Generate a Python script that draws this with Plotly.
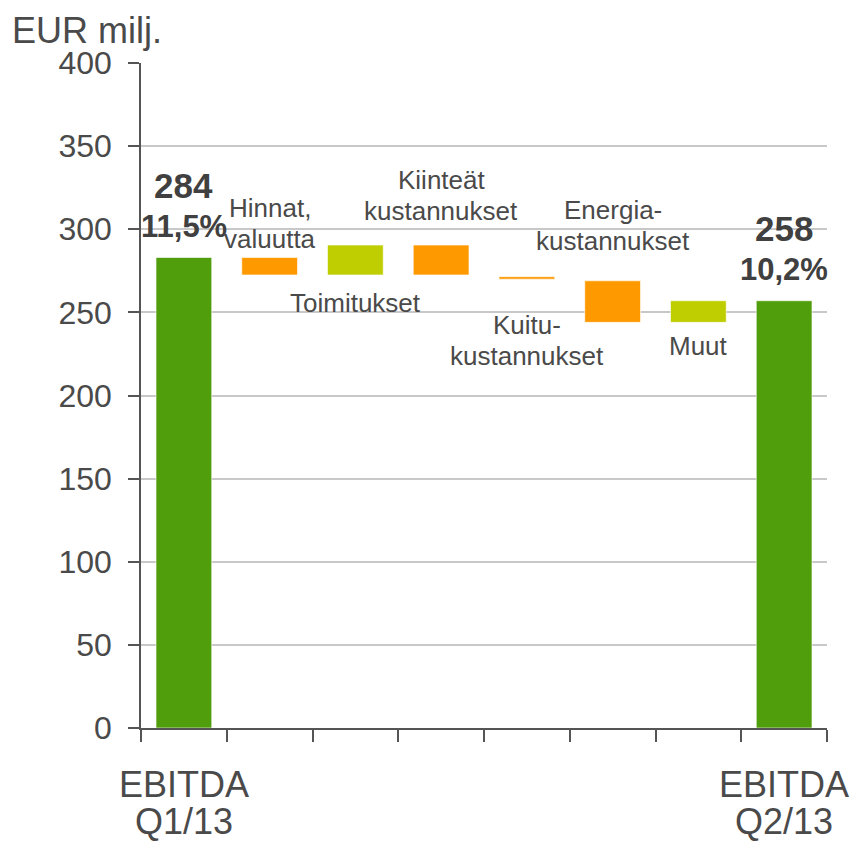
import plotly.graph_objects as go

# ---- data ----
categories = ["EBITDA<br>Q1/13", "Hinnat,<br>valuutta", "Toimitukset", "Kiinteät<br>kustannukset",
              "Kuitu-<br>kustannukset", "Energia-<br>kustannukset", "Muut", "EBITDA<br>Q2/13"]
bar_start = [0, 283, 272.5, 290.5, 271.5, 269, 244, 0]
bar_end = [283, 272.5, 290.5, 272.5, 270, 244, 257, 257]
is_total = [True, False, False, False, False, False, False, True]
total_labels = {0: "284", 7: "258"}
margin_labels = {0: "11,5%", 7: "10,2%"}
y_ticks = [0, 50, 100, 150, 200, 250, 300, 350, 400]

# ---- styles ----
GREEN = "#519E0C"
ORANGE = "#FF9900"
LIME = "#BFCE00"
TXT = "#4a4a4a"
FONT = "Liberation Sans, Arial, sans-serif"
# label placement per category: (which end of the bar, pixel shift of first line centre)
label_place = {
    1: ("top", 50), 2: ("bottom", -28), 3: ("top", 65), 4: ("bottom", -46),
    5: ("top", 71), 6: ("bottom", -24),
}
LINE_PX = 31

x = list(range(len(categories)))
bases = [min(s, e) for s, e in zip(bar_start, bar_end)]
heights = [abs(e - s) for s, e in zip(bar_start, bar_end)]
colors = []
for s, e, t in zip(bar_start, bar_end, is_total):
    if t:
        colors.append(GREEN)
    elif e > s:
        colors.append(LIME)
    else:
        colors.append(ORANGE)

fig = go.Figure(go.Bar(
    x=x, y=heights, base=bases, width=0.65,
    marker=dict(color=colors, line=dict(color="rgba(255,255,255,0.6)", width=1)),
    hoverinfo="skip",
))

ann = []
# totals: value + margin above bar
for i, txt in total_labels.items():
    top = max(bar_start[i], bar_end[i])
    ann.append(dict(x=i, y=top, text="<b>%s</b>" % txt, showarrow=False, yanchor="middle",
                    yshift=72, font=dict(size=35, color="#404040", family=FONT)))
    ann.append(dict(x=i, y=top, text="<b>%s</b>" % margin_labels[i], showarrow=False, yanchor="middle",
                    yshift=31, font=dict(size=31, color="#404040", family=FONT)))
    # x-axis category labels (two lines)
    for k, line in enumerate(categories[i].split("<br>")):
        ann.append(dict(x=i, y=0, text=line, showarrow=False, yanchor="middle",
                        yshift=-56 - 37 * k, font=dict(size=36, color=TXT, family=FONT)))

# delta labels
for i, (end, shift) in label_place.items():
    yv = max(bar_start[i], bar_end[i]) if end == "top" else min(bar_start[i], bar_end[i])
    lines = categories[i].split("<br>")
    for k, line in enumerate(lines):
        ann.append(dict(x=i, y=yv, text=line, showarrow=False, yanchor="middle",
                        yshift=shift - LINE_PX * k, font=dict(size=26, color=TXT, family=FONT)))

ann.append(dict(xref="paper", yref="paper", x=-131 / 686.5, y=665 / 665 + 55 / 665, xanchor="left",
                yanchor="top", text="EUR milj.", showarrow=False,
                font=dict(size=36, color=TXT, family=FONT)))

# page body has an 8px margin, so the figure is sized and offset for that
fig.update_layout(
    width=850, height=839,
    margin=dict(l=133, r=30.5, t=55, b=119),
    plot_bgcolor="white", paper_bgcolor="white",
    showlegend=False, annotations=ann,
    font=dict(family=FONT, color=TXT),
    xaxis=dict(range=[-0.5, 7.5], tickmode="linear", tick0=-0.5, dtick=1,
               ticks="outside", ticklen=12, tickwidth=1.5, tickcolor="#555",
               showticklabels=False, showgrid=False, zeroline=False,
               showline=True, linecolor="#555", linewidth=2),
    yaxis=dict(range=[0, 400], tickmode="array", tickvals=y_ticks,
               ticks="outside", ticklen=11, tickwidth=1.5, tickcolor="#555",
               tickfont=dict(size=32, color=TXT, family=FONT), ticklabelstandoff=10,
               showgrid=True, gridcolor="#c8c8c8", gridwidth=1.5, zeroline=False,
               showline=True, linecolor="#555", linewidth=1.5),
)

fig.write_html("out.html")
